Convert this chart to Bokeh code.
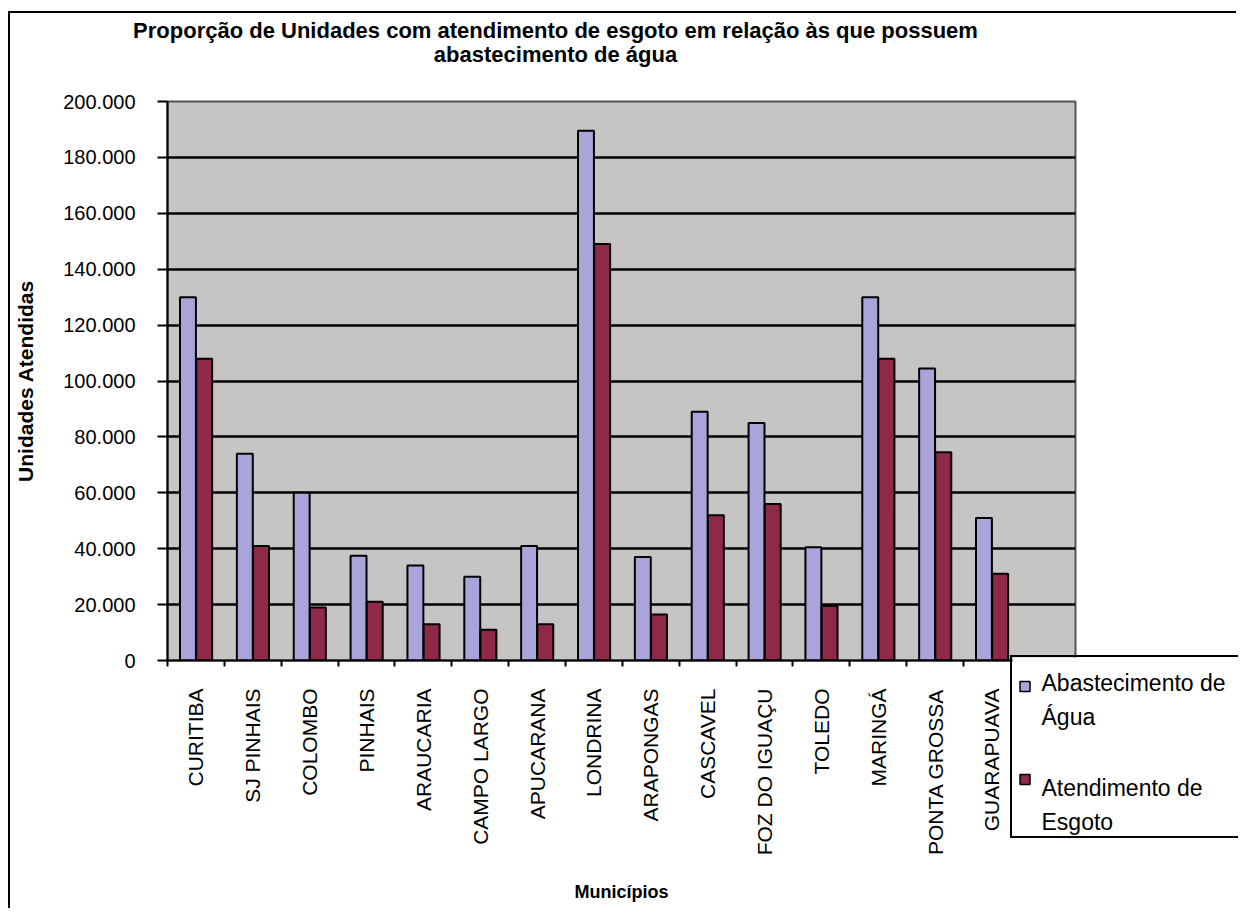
import math
from bokeh.plotting import figure
from bokeh.models import Range1d, FixedTicker, Label
from bokeh.core.properties import value
from bokeh.embed import file_html
from bokeh.resources import INLINE

# ---- data ----
municipios = ["CURITIBA", "SJ PINHAIS", "COLOMBO", "PINHAIS", "ARAUCARIA",
              "CAMPO LARGO", "APUCARANA", "LONDRINA", "ARAPONGAS", "CASCAVEL",
              "FOZ DO IGUAÇU", "TOLEDO", "MARINGÁ", "PONTA GROSSA", "GUARAPUAVA"]
agua = [130000, 74000, 60000, 37500, 34000, 30000, 41000, 189500, 37000,
        89000, 85000, 40500, 130000, 104500, 51000]
esgoto = [108000, 41000, 19000, 21000, 13000, 11000, 13000, 149000, 16500,
          52000, 56000, 19500, 108000, 74500, 31000]
y_ticks = [0, 20000, 40000, 60000, 80000, 100000, 120000, 140000, 160000, 180000, 200000]
y_tick_labels = ["0", "20.000", "40.000", "60.000", "80.000", "100.000", "120.000",
                 "140.000", "160.000", "180.000", "200.000"]
series_names = ["Abastecimento de\nÁgua", "Atendimento de\nEsgoto"]
title_lines = ["Proporção de Unidades com atendimento de esgoto em relação às que possuem",
               "abastecimento de água"]

FONT = "Liberation Sans"
C_AGUA = "#A9A4DA"
C_ESG = "#8E2A48"
series_colors = [C_AGUA, C_ESG]

n = len(municipios)
idx = list(range(n))
x_agua = [i + 0.36 for i in idx]
x_esg = [i + 0.645 for i in idx]
centers = [i + 0.5 for i in idx]

# ---- main chart ----
p = figure(width=1228, height=897, output_backend="svg", toolbar_location=None,
           x_range=Range1d(0, 15.97), y_range=Range1d(0, 200000),
           min_border_left=157, min_border_right=163, min_border_top=88,
           min_border_bottom=250)
p.margin = (11, 0, 0, 8)
p.styles = {"border-left": "2px solid black", "border-top": "2px solid black"}
p.background_fill_color = "#C7C4C4"
p.border_fill_color = "white"
p.outline_line_color = "#555555"
p.outline_line_width = 2

p.vbar(x=x_agua, top=agua, width=0.28, fill_color=C_AGUA,
       line_color="black", line_width=2)
p.vbar(x=x_esg, top=esgoto, width=0.28, fill_color=C_ESG,
       line_color="black", line_width=2)

p.xgrid.visible = False
p.ygrid.ticker = FixedTicker(ticks=y_ticks)
p.ygrid.grid_line_color = "black"
p.ygrid.grid_line_width = 2.5

p.yaxis.ticker = FixedTicker(ticks=y_ticks)
p.yaxis.major_label_overrides = {v: s for v, s in zip(y_ticks, y_tick_labels)}
p.yaxis.major_tick_out = 10
p.yaxis.major_tick_in = 0
p.yaxis.minor_tick_line_color = None
p.yaxis.axis_line_color = "black"
p.yaxis.axis_line_width = 2
p.yaxis.major_tick_line_width = 2
p.yaxis.major_label_standoff = 22
p.yaxis.major_label_text_font = FONT
p.yaxis.major_label_text_font_size = "20px"
p.yaxis.major_label_text_color = "black"
p.yaxis.axis_label = "Unidades Atendidas"
p.yaxis.axis_label_text_font = FONT
p.yaxis.axis_label_text_font_size = "21px"
p.yaxis.axis_label_text_font_style = "bold"
p.yaxis.axis_label_text_color = "black"
p.yaxis.axis_label_standoff = 23

p.xaxis.ticker = FixedTicker(ticks=centers, minor_ticks=[float(i) for i in range(n + 1)])
p.xaxis.major_label_overrides = {c: m for c, m in zip(centers, municipios)}
p.xaxis.major_label_orientation = math.pi / 2
p.xaxis.major_tick_out = 0
p.xaxis.major_tick_in = 0
p.xaxis.minor_tick_out = 6
p.xaxis.minor_tick_in = 0
p.xaxis.minor_tick_line_color = "black"
p.xaxis.minor_tick_line_width = 2
p.xaxis.axis_line_color = "black"
p.xaxis.axis_line_width = 2
p.xaxis.major_label_standoff = 22
p.xaxis.major_label_text_font = FONT
p.xaxis.major_label_text_font_size = "21px"
p.xaxis.major_label_text_color = "black"
p.xaxis.axis_label = "Municípios"
p.xaxis.axis_label_text_font = FONT
p.xaxis.axis_label_text_font_size = "18px"
p.xaxis.axis_label_text_font_style = "bold"
p.xaxis.axis_label_text_color = "black"
p.xaxis.axis_label_standoff = 24

# ---- title overlay (separate root, centred on the chart title position) ----
tf = figure(width=1086, height=60, output_backend="svg", toolbar_location=None,
            x_range=Range1d(0, 1), y_range=Range1d(60, 0), min_border=0)
tf.margin = (-895, 0, 0, 12)
tf.axis.visible = False
tf.grid.visible = False
tf.outline_line_color = None
tf.background_fill_alpha = 0
tf.border_fill_alpha = 0
for txt, yv in zip(title_lines, [17, 41]):
    tf.add_layout(Label(x=0.5, y=yv, text=txt, text_align="center",
                        text_baseline="middle", text_font=FONT,
                        text_font_size="22px", text_font_style="bold",
                        text_color="black"))

# ---- legend box overlay (separate root, below-right of the plot area) ----
lf = figure(width=228, height=183, output_backend="svg", toolbar_location=None,
            x_range=Range1d(0, 228), y_range=Range1d(183, 0), min_border=0)
lf.margin = (582, 0, 0, 1010)
lf.styles = {"border-left": "2px solid black", "border-top": "2px solid black",
             "border-bottom": "2px solid black"}
lf.axis.visible = False
lf.grid.visible = False
lf.outline_line_color = None
lf.background_fill_color = "white"
lf.scatter(x=[12.5, 12.5], y=[29, 122], marker="square", size=10,
           fill_color=series_colors, line_color="black", line_width=1.5)
lf.text(x=[29, 29], y=[12, 117], text=series_names,
        text_font=value(FONT), text_font_size="23px", text_color="black",
        text_baseline="top", text_align="left", text_line_height=1.32)

open("out.html", "w").write(file_html([p, tf, lf], INLINE))
